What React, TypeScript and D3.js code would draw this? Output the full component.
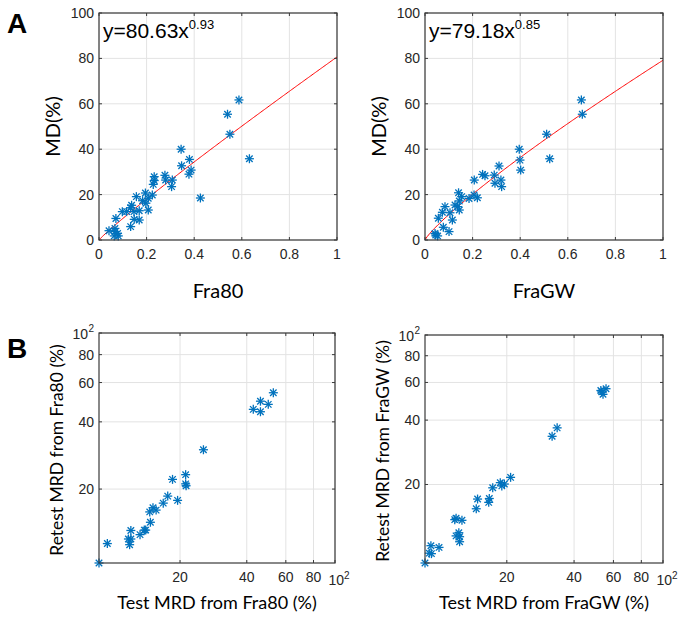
import React from 'react';
import * as d3 from 'd3';

// ---- Panel A data (fraction vs MD %) ----
const fra80X = [0.588,0.54,0.55,0.632,0.345,0.347,0.38,0.387,0.378,0.426,0.277,0.28,0.308,0.305,0.232,0.232,0.228,0.195,0.224,0.207,0.157,0.183,0.197,0.207,0.137,0.133,0.169,0.098,0.116,0.147,0.071,0.148,0.169,0.133,0.067,0.067,0.078,0.064,0.081,0.042];
const fra80Y = [61.7,55.4,46.6,35.8,40,32.7,35.5,30.8,29,18.5,28.5,26.4,26.4,23.5,27.9,26.2,24.5,20.7,19.8,18.4,19.1,17.3,16.2,13.2,15.3,14.2,12.9,12.5,12.5,12.5,9.5,9.1,8.8,5.9,5.1,3.7,2.9,1.8,1.8,4.1];
const fraGWX = [0.657,0.661,0.511,0.524,0.396,0.399,0.402,0.311,0.319,0.322,0.291,0.294,0.242,0.252,0.207,0.206,0.22,0.185,0.141,0.154,0.144,0.126,0.137,0.144,0.084,0.073,0.105,0.056,0.115,0.077,0.101,0.042,0.053,0.045];
const fraGWY = [61.7,55.4,46.6,35.8,40,35.2,30.8,32.6,26.4,23.5,28.6,25,28.9,28.3,26.4,19.8,18.6,18.3,20.8,19.1,17.2,15.4,14.7,13.2,14.7,12.2,12,9.6,8.8,5.6,3.7,2.9,1.8,2.2];
const fitCoef = [80.63, 79.18];
const fitExp = [0.93, 0.85];
const fitLabels = ['80.63', '79.18'];
const fitExpLabels = ['0.93', '0.85'];
const linTicksX = [0, 0.2, 0.4, 0.6, 0.8, 1];
const linTicksY = [0, 20, 40, 60, 80, 100];

// ---- Panel B data (test vs retest MRD %) ----
const f80TestMRD = [8.62,9.4,11.7,12.0,11.85,12.0,13.2,13.8,14.0,14.7,14.6,15.1,15.6,16.8,17.6,18.5,19.5,21.2,21.2,21.3,25.5,42.8,46.1,46.1,50,52.7];
const f80RetestMRD = [9.33,11.4,11.95,11.95,11.27,13.05,12.5,13.1,13.1,14.2,15.8,16.5,16.1,17.3,18.6,22.1,17.8,23.2,21.1,20.7,30,45.5,49.5,44.4,47.9,54];
const gwTestMRD = [8.61,9.15,9.0,9.2,9.95,11.7,11.86,12.6,11.86,12.2,12.3,12.3,14.6,14.8,16.6,16.7,17.3,18.7,19.0,19.5,20.8,31.9,33.6,52.7,53.9,55.6,53.2];
const gwRetestMRD = [8.59,10.35,9.55,9.5,10.16,13.7,13.9,13.6,11.5,11.9,11.4,10.8,15.4,17.1,16.5,17.2,19.3,20.4,19.7,20.1,21.6,33.6,36.8,55.0,52.8,56.1,54.2];
const logTicks = [20, 40, 60, 80, 100];

const BLUE = '#0072BD';
const AXIS = '#3a3a3a';
const GRID = '#e3e3e3';
const TXT = '#262626';
const TICKFONT = '"Liberation Sans", Arial, sans-serif';
const LABELFONT = 'Lato, "Open Sans", sans-serif';

function Star({ x, y }: { x: number; y: number }) {
  const r = 4.5;
  const d = r * 0.72;
  return (
    <g stroke={BLUE} strokeWidth={1.3}>
      <line x1={x - r} y1={y} x2={x + r} y2={y} />
      <line x1={x} y1={y - r} x2={x} y2={y + r} />
      <line x1={x - d} y1={y - d} x2={x + d} y2={y + d} />
      <line x1={x - d} y1={y + d} x2={x + d} y2={y - d} />
    </g>
  );
}

function LinPanel({ left, top, width, height, xs, ys, k, p, coefLabel, expLabel, xLabel, yLabel }: any) {
  const x = d3.scaleLinear().domain([0, 1]).range([left, left + width]);
  const y = d3.scaleLinear().domain([0, 100]).range([top + height, top]);
  const samples = d3.range(0, 1.0001, 0.005);
  const line = d3.line<number>().x((v) => x(v)).y((v) => y(k * Math.pow(v, p)));
  return (
    <g>
      {linTicksX.map((t) => (
        <line key={'gx' + t} x1={x(t)} x2={x(t)} y1={top} y2={top + height} stroke={GRID} />
      ))}
      {linTicksY.map((t) => (
        <line key={'gy' + t} x1={left} x2={left + width} y1={y(t)} y2={y(t)} stroke={GRID} />
      ))}
      <path d={line(samples) || ''} fill="none" stroke="#ff0000" strokeWidth={1} />
      {xs.map((v: number, i: number) => (
        <Star key={i} x={x(v)} y={y(ys[i])} />
      ))}
      <rect x={left} y={top} width={width} height={height} fill="none" stroke={AXIS} strokeWidth={1.2} />
      {linTicksX.map((t) => (
        <g key={'tx' + t}>
          <line x1={x(t)} x2={x(t)} y1={top + height} y2={top + height - 3} stroke={AXIS} />
          <line x1={x(t)} x2={x(t)} y1={top} y2={top + 3} stroke={AXIS} />
          <text x={x(t)} y={top + height + 19} textAnchor="middle" fontFamily={TICKFONT} fontSize={14} fill={TXT}>
            {String(t)}
          </text>
        </g>
      ))}
      {linTicksY.map((t) => (
        <g key={'ty' + t}>
          <line x1={left} x2={left + 3} y1={y(t)} y2={y(t)} stroke={AXIS} />
          <line x1={left + width} x2={left + width - 3} y1={y(t)} y2={y(t)} stroke={AXIS} />
          <text x={left - 5} y={y(t) + 5} textAnchor="end" fontFamily={TICKFONT} fontSize={14} fill={TXT}>
            {String(t)}
          </text>
        </g>
      ))}
      <text x={left + 4} y={top + 25} fontFamily={TICKFONT} fontSize={21} fill="#000">
        {'y=' + coefLabel + 'x'}
        <tspan fontSize={13} dy={-9}>{expLabel}</tspan>
      </text>
      <text x={left + width / 2} y={top + height + 58} textAnchor="middle" fontFamily={LABELFONT} fontSize={20} fill="#000">
        {xLabel}
      </text>
      <text transform={`translate(${left - 39},${top + height / 2}) rotate(-90)`} textAnchor="middle" fontFamily={LABELFONT} fontSize={20} fill="#000">
        {yLabel}
      </text>
    </g>
  );
}

function TickLabel({ v }: { v: number }) {
  if (v === 100) {
    return (
      <>
        {'10'}
        <tspan fontSize={10} dy={-6}>2</tspan>
      </>
    );
  }
  return <>{String(v)}</>;
}

function LogPanel({ left, top, width, height, xs, ys, xMin, yMin, xLabel, yLabel }: any) {
  const x = d3.scaleLog().domain([xMin, 100]).range([left, left + width]);
  const y = d3.scaleLog().domain([yMin, 100]).range([top + height, top]);
  return (
    <g>
      {logTicks.map((t) => (
        <line key={'gx' + t} x1={x(t)} x2={x(t)} y1={top} y2={top + height} stroke={GRID} />
      ))}
      {logTicks.map((t) => (
        <line key={'gy' + t} x1={left} x2={left + width} y1={y(t)} y2={y(t)} stroke={GRID} />
      ))}
      {xs.map((v: number, i: number) => (
        <Star key={i} x={x(v)} y={y(ys[i])} />
      ))}
      <rect x={left} y={top} width={width} height={height} fill="none" stroke={AXIS} strokeWidth={1.2} />
      {logTicks.map((t) => (
        <g key={'tx' + t}>
          <line x1={x(t)} x2={x(t)} y1={top + height} y2={top + height - 3} stroke={AXIS} />
          <line x1={x(t)} x2={x(t)} y1={top} y2={top + 3} stroke={AXIS} />
          <text x={x(t) + (t === 100 ? 4 : 0)} y={top + height + (t === 100 ? 22 : 19)} textAnchor="middle" fontFamily={TICKFONT} fontSize={14} fill={TXT}>
            <TickLabel v={t} />
          </text>
        </g>
      ))}
      {logTicks.map((t) => (
        <g key={'ty' + t}>
          <line x1={left} x2={left + 3} y1={y(t)} y2={y(t)} stroke={AXIS} />
          <line x1={left + width} x2={left + width - 3} y1={y(t)} y2={y(t)} stroke={AXIS} />
          <text x={left - 5 - (t === 100 ? 6 : 0)} y={y(t) + 5 + (t === 100 ? 1 : 0)} textAnchor="end" fontFamily={TICKFONT} fontSize={14} fill={TXT}>
            {t === 100 ? '10' : String(t)}
          </text>
          {t === 100 && (
            <text x={left - 5} y={y(t) - 1} textAnchor="end" fontFamily={TICKFONT} fontSize={10} fill={TXT}>2</text>
          )}
        </g>
      ))}
      <text x={left + width / 2} y={top + height + 46} textAnchor="middle" fontFamily={LABELFONT} fontSize={18} fill="#000">
        {xLabel}
      </text>
      <text transform={`translate(${left - 36},${top + height / 2 + 2}) rotate(-90)`} textAnchor="middle" fontFamily={LABELFONT} fontSize={17.5} fill="#000">
        {yLabel}
      </text>
    </g>
  );
}

export default function App() {
  return (
    <svg width={681} height={620} style={{ position: 'absolute', left: 0, top: 0, background: '#fff' }}>
      <rect width={681} height={620} fill="#fff" />
      <text x={7} y={33} fontFamily={TICKFONT} fontWeight="bold" fontSize={28} fill="#000">A</text>
      <text x={7} y={358} fontFamily={TICKFONT} fontWeight="bold" fontSize={28} fill="#000">B</text>
      <LinPanel left={99} top={13} width={238} height={227} xs={fra80X} ys={fra80Y} k={fitCoef[0]} p={fitExp[0]}
        coefLabel={fitLabels[0]} expLabel={fitExpLabels[0]} xLabel="Fra80" yLabel="MD(%)" />
      <LinPanel left={425} top={13} width={238} height={227} xs={fraGWX} ys={fraGWY} k={fitCoef[1]} p={fitExp[1]}
        coefLabel={fitLabels[1]} expLabel={fitExpLabels[1]} xLabel="FraGW" yLabel="MD(%)" />
      <LogPanel left={99} top={333} width={236} height={230} xs={f80TestMRD} ys={f80RetestMRD} xMin={8.62} yMin={9.33}
        xLabel="Test MRD from Fra80 (%)" yLabel="Retest MRD from Fra80 (%)" />
      <LogPanel left={425} top={335} width={238} height={228} xs={gwTestMRD} ys={gwRetestMRD} xMin={8.61} yMin={8.59}
        xLabel="Test MRD from FraGW (%)" yLabel="Retest MRD from FraGW (%)" />
    </svg>
  );
}
